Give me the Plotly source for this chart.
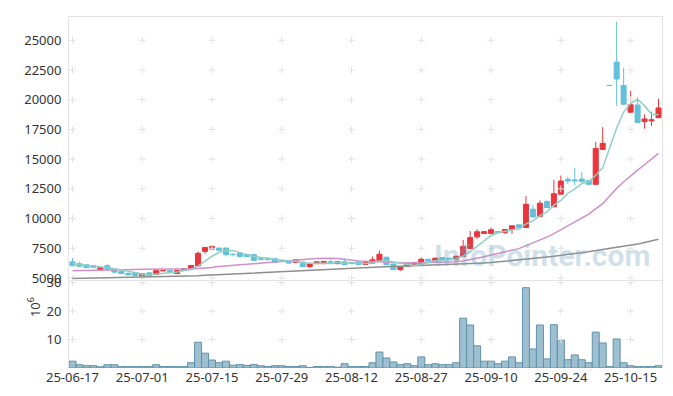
import plotly.graph_objects as go
from plotly.subplots import make_subplots

dates = ["25-06-17","25-06-18","25-06-19","25-06-20","25-06-23","25-06-24","25-06-25","25-06-26","25-06-27","25-06-30",
         "25-07-01","25-07-02","25-07-03","25-07-04","25-07-07","25-07-08","25-07-09","25-07-10","25-07-11","25-07-14",
         "25-07-15","25-07-16","25-07-17","25-07-18","25-07-21","25-07-22","25-07-23","25-07-24","25-07-25","25-07-28",
         "25-07-29","25-07-30","25-07-31","25-08-01","25-08-04","25-08-05","25-08-06","25-08-07","25-08-08","25-08-11",
         "25-08-12","25-08-13","25-08-14","25-08-18","25-08-19","25-08-20","25-08-21","25-08-22","25-08-25","25-08-26",
         "25-08-27","25-08-28","25-08-29","25-09-01","25-09-02","25-09-03","25-09-04","25-09-05","25-09-08","25-09-09",
         "25-09-10","25-09-11","25-09-12","25-09-15","25-09-16","25-09-17","25-09-18","25-09-19","25-09-22","25-09-23",
         "25-09-24","25-09-25","25-09-26","25-09-29","25-09-30","25-10-01","25-10-02","25-10-10","25-10-13","25-10-14",
         "25-10-15","25-10-16","25-10-17","25-10-20","25-10-21"]

opens = [6360,6200,6110,6030,5700,6030,5730,5540,5400,5430,
         5180,5430,5290,5600,5620,5370,5650,5760,6010,7240,
         7430,7520,7520,6990,7100,6970,6970,6600,6670,6640,
         6430,6440,6310,6340,5950,6200,6200,6360,6200,6360,
         6300,6340,6140,6250,6400,6750,6170,5700,5980,6150,
         6170,6580,6420,6720,6670,6530,6810,7490,8460,8750,
         8750,8920,8810,9080,9470,9250,10790,10190,11430,10990,
         12050,13300,13250,13320,13210,12880,15820,21200,23170,21190,
         18950,19560,18160,18220,18490]
highs = [6670,6360,6150,6060,5900,6150,5750,5560,5420,5440,
         5370,5450,5650,5660,5640,5670,5800,6080,7220,7600,
         7760,7540,7540,7100,7130,7000,6990,6680,6690,6660,
         6500,6470,6560,6360,6190,6380,6400,6560,6380,6640,
         6320,6360,6320,6810,7300,6770,6190,5940,6270,6300,
         6720,6600,6690,6740,6690,6850,8210,8950,9100,8950,
         9250,8940,9100,9410,9490,11890,11120,11530,11530,13270,
         13620,13520,14250,13900,13230,16460,17700,21200,26550,22700,
         20750,20200,18770,18990,20090]
lows = [5990,5950,5850,5880,5570,5700,5460,5350,5240,5190,
        5160,5190,5250,5580,5430,5350,5630,5740,5990,7020,
        7400,7300,6810,6810,6780,6780,6450,6480,6500,6290,
        6330,6230,6290,5920,5850,6180,6180,6230,6180,6090,
        6180,6120,6120,6230,6380,6090,5680,5590,5960,6130,
        6150,6400,6400,6540,6510,6510,6790,7470,8280,8730,
        8730,8790,8700,8700,9230,9200,10110,10170,10910,10970,
        12030,12900,12830,13080,12800,12860,15800,21200,19480,19550,
        18900,18060,17560,17800,18450]
closes = [6030,5980,5870,5900,5870,5730,5490,5370,5260,5210,
          5350,5210,5620,5630,5450,5650,5780,6060,7080,7570,
          7660,7330,6970,6970,6810,6810,6480,6580,6530,6310,
          6420,6250,6530,5950,6170,6360,6380,6250,6360,6110,
          6200,6140,6300,6530,7000,6110,5700,5920,6250,6280,
          6580,6420,6670,6560,6530,6830,7660,8400,8890,8900,
          9060,8810,9080,9390,9250,11200,10130,11290,10930,12090,
          13160,13160,13180,13100,12880,15900,16330,21200,21740,19620,
          19580,18080,18380,18300,19310]
volumes_m = [2.4,1.15,0.8,0.8,0.4,1.15,1.15,0.5,0.5,0.5,
             0.5,0.5,1.15,0.5,0.5,0.5,0.5,1.85,9.05,5.2,
             2.8,1.85,2.4,1.0,1.2,0.9,1.2,0.8,0.5,0.8,
             0.8,0.5,0.5,0.8,0.2,0.5,0.5,0.5,0.3,1.5,
             0.5,0.5,0.5,1.85,5.6,3.5,2.1,1.15,1.5,0.8,
             3.9,1.15,1.5,1.15,1.15,1.85,17.5,15.1,7.8,2.4,
             2.4,1.5,2.4,3.9,1.85,28.2,6.7,15.1,3.2,15.2,
             9.9,2.9,4.6,2.9,1.85,12.6,8.8,0.5,10.2,1.85,
             0.8,0.5,0.5,0.5,0.8]
ma5 = [6200,6150,6080,6010,5930,5870,5770,5670,5540,5410,
       5340,5280,5330,5400,5450,5510,5630,5710,6000,6430,
       6830,7140,7320,7300,7150,6980,6810,6730,6640,6540,
       6460,6420,6410,6290,6260,6250,6280,6220,6300,6290,
       6260,6210,6220,6260,6430,6420,6330,6250,6200,6050,
       6150,6290,6440,6500,6550,6600,6850,7200,7660,8140,
       8580,8810,8950,9050,9120,9550,9810,10250,10560,11130,
       11520,12130,12500,12940,13100,13640,14280,15880,17610,18960,
       19690,20040,19480,18790,18730]
ma20 = [5600,5620,5640,5660,5680,5700,5710,5720,5720,5720,
        5725,5725,5730,5735,5740,5745,5755,5770,5790,5810,
        5890,5960,6010,6060,6110,6160,6210,6270,6340,6390,
        6450,6500,6540,6560,6600,6630,6660,6670,6640,6560,
        6490,6430,6400,6370,6380,6350,6310,6280,6260,6260,
        6270,6280,6280,6320,6330,6360,6420,6530,6650,6790,
        6940,7070,7210,7350,7470,7720,7940,8210,8440,8730,
        9060,9400,9730,10050,10370,10820,11260,11900,12540,13080,
        13600,14070,14530,14980,15480]
ma_long = [4950,4960,4970,4980,4990,5000,5010,5020,5030,5040,
           5050,5060,5070,5080,5090,5100,5130,5160,5190,5220,
           5250,5280,5310,5340,5370,5400,5430,5460,5490,5520,
           5550,5580,5610,5640,5670,5700,5730,5760,5790,5815,
           5840,5860,5880,5900,5920,5940,5960,5980,6000,6020,
           6040,6060,6085,6110,6140,6165,6190,6220,6245,6270,
           6300,6350,6400,6460,6520,6580,6640,6700,6760,6820,
           6880,6960,7050,7130,7220,7300,7380,7470,7550,7640,
           7720,7850,7990,8120,8260]

x_tick_labels = ["25-06-17","25-07-01","25-07-15","25-07-29","25-08-12","25-08-27","25-09-10","25-09-24","25-10-15"]
price_ticks = [5000,7500,10000,12500,15000,17500,20000,22500,25000]
volume_ticks = [10,20,30]

RED = "#e8363c"
BLUE = "#62c0da"
GRID = "#e2e2e2"
FRAME = "#e3e3e3"
FONT = "Noto Sans"

fig = make_subplots(rows=2, cols=1, shared_xaxes=True, vertical_spacing=0,
                    row_heights=[0.7486, 0.2514])

# grid crosses at tick intersections
px, py = [], []
for d in x_tick_labels:
    for v in price_ticks:
        px.append(d); py.append(v)
fig.add_trace(go.Scatter(x=px, y=py, mode="markers", hoverinfo="skip", showlegend=False,
                         marker=dict(symbol="cross-thin", size=5, line=dict(color=GRID, width=1))),
              row=1, col=1)
vx, vy = [], []
for d in x_tick_labels:
    for v in volume_ticks:
        vx.append(d); vy.append(v)
fig.add_trace(go.Scatter(x=vx, y=vy, mode="markers", hoverinfo="skip", showlegend=False,
                         marker=dict(symbol="cross-thin", size=5, line=dict(color=GRID, width=1))),
              row=2, col=1)

# moving averages
fig.add_trace(go.Scatter(x=dates, y=ma_long, mode="lines", line=dict(color="#8e8e8e", width=1.5),
                         showlegend=False), row=1, col=1)
fig.add_trace(go.Scatter(x=dates, y=ma20, mode="lines", line=dict(color="#cf8fca", width=1.5),
                         showlegend=False), row=1, col=1)
fig.add_trace(go.Scatter(x=dates, y=ma5, mode="lines", line=dict(color="#8fcfc4", width=1.5),
                         showlegend=False), row=1, col=1)

# candles: red when close > open, blue otherwise (all dates kept so widths stay equal)
n = len(dates)
for is_up, col in ((True, RED), (False, BLUE)):
    keep = [(closes[i] > opens[i]) == is_up for i in range(n)]
    fig.add_trace(go.Candlestick(
        x=dates,
        open=[opens[i] if keep[i] else None for i in range(n)],
        high=[highs[i] if keep[i] else None for i in range(n)],
        low=[lows[i] if keep[i] else None for i in range(n)],
        close=[closes[i] if keep[i] else None for i in range(n)],
        increasing=dict(line=dict(color=col, width=1), fillcolor=col),
        decreasing=dict(line=dict(color=col, width=1), fillcolor=col),
        whiskerwidth=0, showlegend=False), row=1, col=1)

fig.add_trace(go.Bar(x=dates, y=volumes_m, width=1,
                     marker=dict(color="#9dbfd0", line=dict(color="#5f92ab", width=1)),
                     showlegend=False), row=2, col=1)

axis_font = dict(family=FONT, size=13, color="#333333")
fig.update_xaxes(type="category", categoryorder="array", categoryarray=dates,
                 range=[-0.5, n - 0.5], showgrid=False, zeroline=False,
                 rangeslider=dict(visible=False), tickfont=axis_font,
                 tickmode="array", tickvals=x_tick_labels, ticktext=x_tick_labels)
fig.update_xaxes(showticklabels=False, showline=True, linecolor=FRAME, mirror=True, row=1, col=1)
fig.update_xaxes(showline=False, row=2, col=1)
fig.update_yaxes(range=[4850, 26960], tickmode="array", tickvals=price_ticks,
                 ticktext=[str(v) for v in price_ticks], showgrid=False, zeroline=False,
                 showline=True, linecolor=FRAME, mirror=True, tickfont=axis_font,
                 ticklabelstandoff=4, row=1, col=1)
fig.update_yaxes(range=[0, 31.0], tickmode="array", tickvals=volume_ticks,
                 ticktext=[str(v) for v in volume_ticks], showgrid=False, zeroline=False,
                 showline=True, linecolor=FRAME, mirror=True, tickfont=axis_font,
                 ticklabelstandoff=4, row=2, col=1)

fig.add_annotation(text="10<sup>6</sup>", xref="paper", yref="paper", x=-0.078, y=0.14,
                   textangle=-90, showarrow=False, font=dict(family=FONT, size=13, color="#333333"))
fig.add_annotation(text="<b>InfoPointer.com</b>", xref="paper", yref="paper", x=0.797, y=0.321,
                   xanchor="center", yanchor="middle", showarrow=False,
                   font=dict(family="Roboto", size=30, color="rgba(120,165,195,0.35)"))

fig.update_layout(width=673, height=396, margin=dict(l=69, r=10, t=10, b=28),
                  paper_bgcolor="white", plot_bgcolor="white", showlegend=False,
                  boxmode="overlay", boxgap=0.28, boxgroupgap=0, font=dict(family=FONT))

fig.write_html("out.html", config={"displayModeBar": False},
               post_script="document.body.style.margin='0';")
